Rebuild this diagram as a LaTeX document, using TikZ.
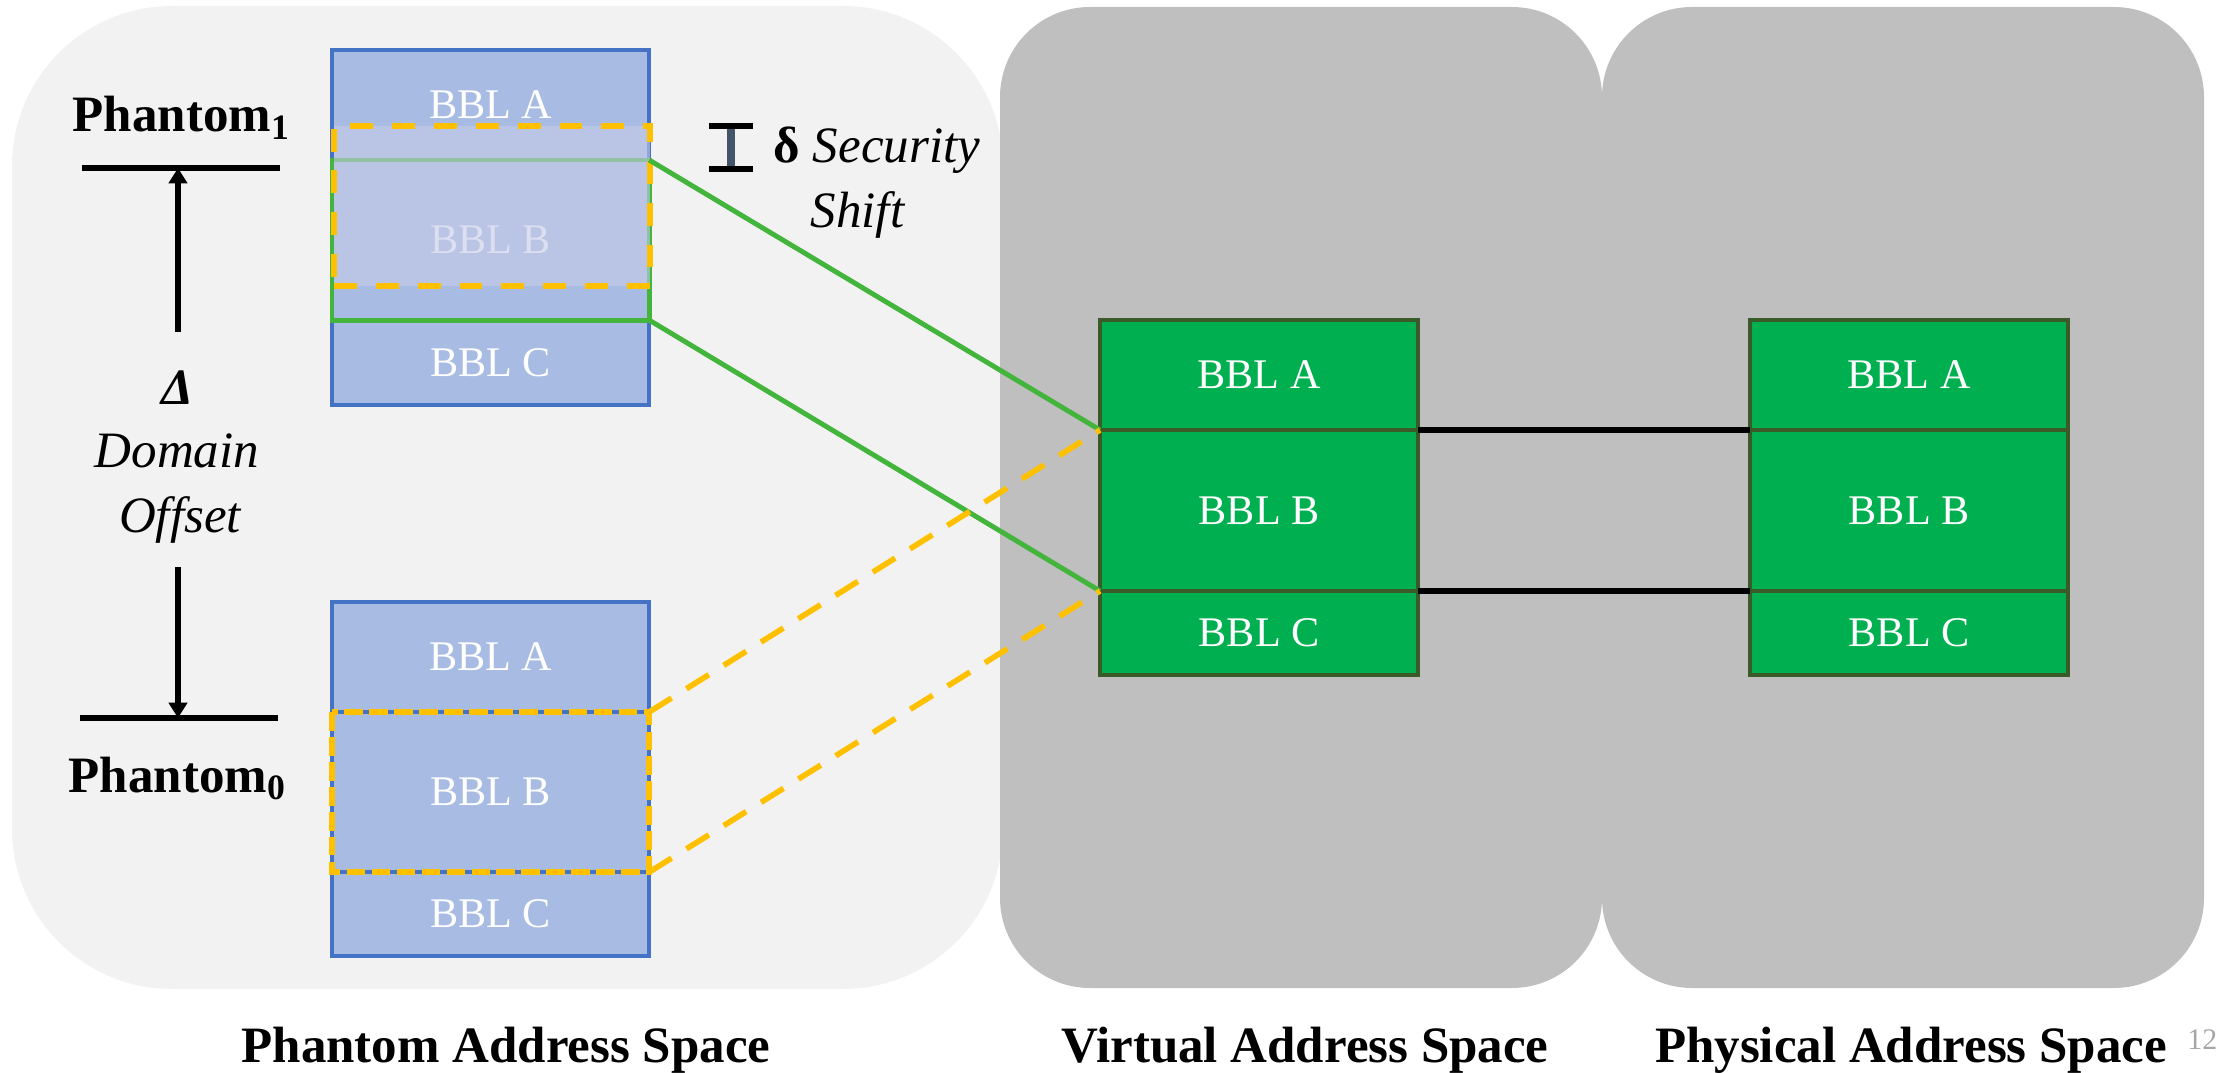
\documentclass[tikz,border=0pt]{standalone}
\usepackage{fontspec}
\setmainfont{Liberation Serif}
\usetikzlibrary{arrows.meta}

\definecolor{panelLight}{HTML}{F2F2F2}
\definecolor{panelGray}{HTML}{BFBFBF}
\definecolor{bblBlue}{HTML}{A8BBE2}
\definecolor{bblBlueLine}{HTML}{4472C4}
\definecolor{bblGreen}{HTML}{00B050}
\definecolor{bblGreenLine}{HTML}{3A5A28}
\definecolor{linkGreen}{HTML}{43B43C}
\definecolor{shiftOrange}{HTML}{FFC000}
\definecolor{shiftVeil}{HTML}{C6CAE7}
\definecolor{beamStem}{HTML}{44546A}
\definecolor{pageNum}{HTML}{A6A6A6}

\begin{document}
\begin{tikzpicture}[x=0.01cm, y=-0.01cm,
  bluebbl/.style={draw=bblBlueLine, fill=bblBlue, line width=1.1pt,
    minimum width=3.17cm, inner sep=0pt, outer sep=0pt, anchor=north west,
    text=white, font=\fontsize{12}{14}\selectfont},
  greenbbl/.style={draw=bblGreenLine, fill=bblGreen, line width=1.3pt,
    minimum width=3.18cm, inner sep=0pt, outer sep=0pt, anchor=north west,
    text=white, font=\fontsize{12}{14}\selectfont},
  linkline/.style={draw=linkGreen, line width=1.4pt},
  shiftdash/.style={draw=shiftOrange, line width=1.6pt, dash pattern=on 6.5pt off 5.4pt},
  blockdash/.style={draw=shiftOrange, line width=1.6pt, dash pattern=on 5.3pt off 1.8pt},
  linkdash/.style={draw=shiftOrange, line width=1.6pt, dash pattern=on 7.5pt off 5pt},
  mapline/.style={draw=black, line width=1.6pt},
  levelbar/.style={draw=black, line width=1.7pt},
  offarrow/.style={draw=black, line width=1.5pt, -{Triangle[width=5.2pt,length=4.4pt]}},
  biglabel/.style={font=\fontsize{14.5}{18}\selectfont\bfseries, anchor=base, inner sep=0pt},
  sidelabel/.style={font=\fontsize{14.5}{18}\selectfont, anchor=base, inner sep=0pt}
]
\useasboundingbox (0,0) rectangle (2223,1073);

% address-space panels
\fill[panelLight, rounded corners=1.6cm] (12,6) rectangle (1003,989);
\fill[panelGray, rounded corners=0.9cm] (1000,7) rectangle (1602,988);
\fill[panelGray, rounded corners=0.9cm] (1602,7) rectangle (2204,988);

% phantom copy 1
\node[bluebbl, minimum height=1.1cm]  (p1a) at (332,50)  {BBL A};
\node[bluebbl, minimum height=1.6cm]  (p1b) at (332,160) {BBL B};
\node[bluebbl, minimum height=0.85cm] (p1c) at (332,320) {BBL C};
\draw[linkline] (p1b.north west) rectangle (p1b.south east);
\node[shiftdash, fill=shiftVeil, fill opacity=0.6, minimum width=3.16cm,
      minimum height=1.6cm, inner sep=0pt, outer sep=0pt, anchor=north west]
      (shiftwin) at (334,126) {};

% phantom copy 0
\node[bluebbl, minimum height=1.1cm]  (p0a) at (332,602) {BBL A};
\node[bluebbl, minimum height=1.6cm]  (p0b) at (332,712) {BBL B};
\node[bluebbl, minimum height=0.84cm] (p0c) at (332,872) {BBL C};
\draw[blockdash] (p0b.north west) rectangle (p0b.south east);

% virtual blocks
\node[greenbbl, minimum height=1.1cm]  (va) at (1100,320) {BBL A};
\node[greenbbl, minimum height=1.61cm] (vb) at (1100,430) {BBL B};
\node[greenbbl, minimum height=0.84cm] (vc) at (1100,591) {BBL C};

% physical blocks
\node[greenbbl, minimum height=1.1cm]  (ha) at (1750,320) {BBL A};
\node[greenbbl, minimum height=1.61cm] (hb) at (1750,430) {BBL B};
\node[greenbbl, minimum height=0.84cm] (hc) at (1750,591) {BBL C};

% mappings
\draw[linkline] (p1b.north east) -- (vb.north west);
\draw[linkline] (p1b.south east) -- (vc.north west);
\draw[linkdash] (p0b.north east) -- (vb.north west);
\draw[linkdash] (p0b.south east) -- (vc.north west);
\draw[mapline] (vb.north east) -- (hb.north west);
\draw[mapline] (vc.north east) -- (hc.north west);

% domain offset markers
\coordinate (lvl1w) at (82,168);
\coordinate (lvl1e) at (280,168);
\coordinate (lvl1m) at (178,168);
\coordinate (up0)   at (178,332);
\coordinate (lvl0w) at (80,718);
\coordinate (lvl0e) at (278,718);
\coordinate (lvl0m) at (178,718);
\coordinate (dn0)   at (178,567);
\draw[levelbar] (lvl1w) -- (lvl1e);
\draw[levelbar] (lvl0w) -- (lvl0e);
\draw[offarrow] (up0) -- (lvl1m);
\draw[offarrow] (dn0) -- (lvl0m);

\node[biglabel, anchor=base west] (ph1) at (72,132) {Phantom\textsubscript{1}};
\node[biglabel, anchor=base west] (ph0) at (68,792) {Phantom\textsubscript{0}};
\node[sidelabel, font=\fontsize{14.5}{18}\selectfont\bfseries\itshape] (dlt) at (177,404) {Δ};
\node[sidelabel, font=\fontsize{14.5}{18}\selectfont\itshape] (dom) at (177,467) {Domain};
\node[sidelabel, font=\fontsize{14.5}{18}\selectfont\itshape] (off) at (180,532) {Offset};

% security shift marker
\coordinate (beamT) at (731,126);
\coordinate (beamB) at (731,169);
\coordinate (beamTL) at (709,126);
\coordinate (beamTR) at (753,126);
\coordinate (beamBL) at (709,169);
\coordinate (beamBR) at (753,169);
\draw[beamStem, line width=2pt] (beamT) -- (beamB);
\draw[black, line width=1.5pt] (beamTL) -- (beamTR);
\draw[black, line width=1.5pt] (beamBL) -- (beamBR);
\node[sidelabel, anchor=base west] (sec) at (773,163) {\textbf{δ} \textit{Security}};
\node[sidelabel, anchor=base west] (shf) at (810,228) {\textit{Shift}};

% panel captions
\node[biglabel] (capP) at (506,1062) {Phantom Address Space};
\node[biglabel] (capV) at (1305,1062) {Virtual Address Space};
\node[biglabel] (capH) at (1911,1062) {Physical Address Space};
\node[font=\fontsize{8.5}{10}\selectfont, text=pageNum, anchor=base east, inner sep=0pt] (pg) at (2218,1049) {12};
\end{tikzpicture}
\end{document}
